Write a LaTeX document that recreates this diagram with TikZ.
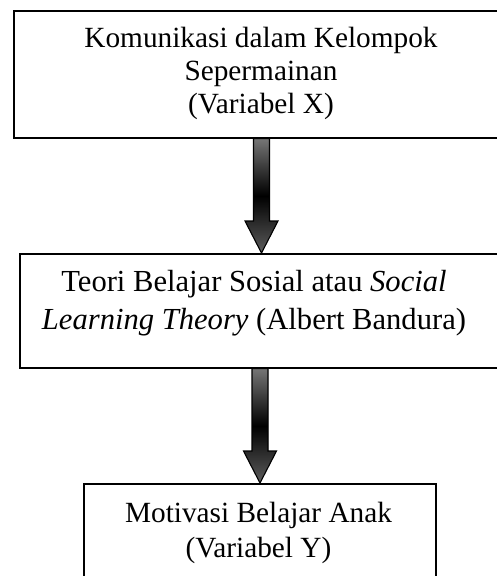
\documentclass[tikz,border=0pt]{standalone}
\usepackage{fontspec}
\setmainfont{Liberation Serif}
\usetikzlibrary{calc}
\definecolor{arrtop}{HTML}{767676}
\definecolor{arrbot}{HTML}{5C5C5C}
\definecolor{arrshadow}{HTML}{A6A6A6}
\newcommand\arrowpath[2]{let \p1=(#1),\p2=(#2) in (\x1-8pt,\y1) -- (\x1-8pt,\y2+32pt) -- (\x1-16.5pt,\y2+32pt) -- (\x2,\y2) -- (\x1+16.5pt,\y2+32pt) -- (\x1+8pt,\y2+32pt) -- (\x1+8pt,\y1) -- cycle}
\begin{document}
\begin{tikzpicture}[x=1pt,y=-1pt,
  box/.style={draw=black,line width=1.5pt,fill=white,inner sep=0pt,anchor=north west},
  lbl/.style={inner sep=0pt,align=center,anchor=base},
  arrowshadow/.style={fill=arrshadow,shift={(3pt,-3pt)}},
  arrowbody/.style={draw=black,line width=1.1pt,line join=miter,top color=arrtop,bottom color=arrbot,middle color=black}]
\useasboundingbox (0,0) rectangle (497,576);
\clip (0,0) rectangle (497,576);
\fill[white] (0,0) rectangle (497,576);
% boxes
\node[box,minimum width=499pt,minimum height=127pt] (boxA) at (13,10) {};
\node[box,minimum width=499pt,minimum height=114pt] (boxB) at (19,253) {};
\node[box,minimum width=352pt,minimum height=110pt] (boxC) at (83,483) {};
% texts
\node[lbl,font=\fontsize{29.3}{33}\selectfont] (txtA) at (261,113) {Komunikasi dalam Kelompok\\Sepermainan\\(Variabel X)};
\node[lbl,font=\fontsize{30.6}{38}\selectfont] (txtB) at (254,329) {Teori Belajar Sosial atau \textit{Social}\\\textit{Learning Theory} (Albert Bandura)};
\node[lbl,font=\fontsize{29.3}{35}\selectfont] (txtC) at (258.5,557) {Motivasi Belajar Anak\\(Variabel Y)};
% arrows
\coordinate (ax1) at (261.5,0);
\coordinate (ax2) at (260,0);
\fill[arrowshadow] \arrowpath{ax1 |- boxA.south}{ax1 |- boxB.north};
\path[arrowbody] \arrowpath{ax1 |- boxA.south}{ax1 |- boxB.north};
\fill[arrowshadow] \arrowpath{ax2 |- boxB.south}{ax2 |- boxC.north};
\path[arrowbody] \arrowpath{ax2 |- boxB.south}{ax2 |- boxC.north};
\end{tikzpicture}
\end{document}
